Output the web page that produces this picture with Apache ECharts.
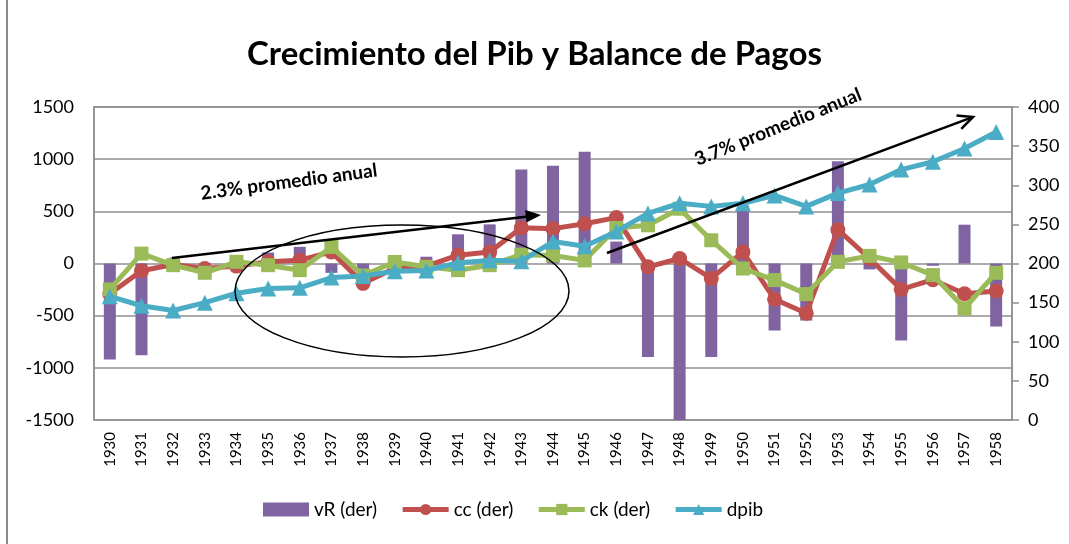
<!DOCTYPE html>
<html>
<head>
<meta charset="utf-8">
<script src="https://cdn.jsdelivr.net/npm/echarts@6/dist/echarts.min.js"></script>
<style>
  html, body { margin: 0; padding: 0; background: #fff; }
  #chart { width: 1069px; height: 544px; }
</style>
</head>
<body>
<div id="chart"></div>
<script>
// ---- data ----
var years = ['1930', '1931', '1932', '1933', '1934', '1935', '1936', '1937', '1938', '1939',
    '1940', '1941', '1942', '1943', '1944', '1945', '1946', '1947', '1948', '1949',
    '1950', '1951', '1952', '1953', '1954', '1955', '1956', '1957', '1958'];

var vR = [-920, -880, 0, -20, 0, 105, 160, -90, -100, -15,
    65, 280, 375, 900, 938, 1072, 210, -897, -1500, -897,
    556, -642, -547, 980, -57, -738, -22, 372, -604];

var cc = [-290, -70, -10, -48, -25, 16, 32, 111, -190, -45,
    -25, 80, 111, 343, 334, 381, 440, -32, 48, -143,
    111, -343, -477, 324, 48, -248, -155, -290, -264];

var ck = [-248, 95, -16, -89, 16, -16, -64, 159, -115, 15,
    -32, -64, -16, 85, 77, 30, 340, 366, 525, 223,
    -48, -159, -293, 16, 73, 10, -111, -429, -89];

var dpib = [158, 146, 140, 150, 162, 168, 169, 182, 184, 190,
    191, 201, 204, 203, 228, 222, 241, 264, 277, 273,
    277, 287, 273, 290, 301, 320, 330, 347, 368];

var seriesNames = ['vR (der)', 'cc (der)', 'ck (der)', 'dpib'];

var FONT = 'Lato';

var chart = echarts.init(document.getElementById('chart'));

option = {
    animation: false,
    textStyle: { fontFamily: FONT, color: '#000' },
    title: {
        text: 'Crecimiento del Pib y Balance de Pagos',
        left: 'center',
        top: 33,
        textStyle: { fontFamily: FONT, fontSize: 33, fontWeight: 'bold', color: '#000' }
    },
    legend: {
        bottom: 20,
        left: 258,
        itemGap: 23,
        itemWidth: 46,
        itemHeight: 14,
        lineStyle: { width: 5 },
        textStyle: { fontFamily: FONT, fontSize: 19, color: '#000' },
        data: [
            { name: seriesNames[0], icon: 'rect' },
            { name: seriesNames[1] },
            { name: seriesNames[2] },
            { name: seriesNames[3] }
        ]
    },
    grid: {
        left: 94,
        right: 57,
        top: 107,
        bottom: 124,
        show: true,
        borderColor: '#8f8f8f',
        borderWidth: 1.5
    },
    xAxis: {
        type: 'category',
        data: years,
        axisLine: { show: false },
        axisTick: { show: false },
        axisLabel: {
            rotate: 90,
            margin: 12,
            fontSize: 15,
            color: '#000',
            fontFamily: FONT
        }
    },
    yAxis: [{
        type: 'value',
        min: -1500,
        max: 1500,
        interval: 500,
        axisLine: { show: true, lineStyle: { color: '#8f8f8f', width: 1.5 } },
        axisTick: { show: false },
        axisLabel: {
            fontSize: 18, color: '#000', margin: 20, fontFamily: FONT,
            formatter: function (v) { return String(v); }
        },
        splitLine: { lineStyle: { color: '#8f8f8f', width: 1.5 } }
    }, {
        type: 'value',
        min: 0,
        max: 400,
        interval: 50,
        axisLine: { show: true, lineStyle: { color: '#8f8f8f', width: 1.5 } },
        axisTick: { show: true, length: 7, lineStyle: { color: '#8f8f8f', width: 1.5 } },
        axisLabel: { fontSize: 18, color: '#000', margin: 16, fontFamily: FONT },
        splitLine: { show: false }
    }],
    series: [{
        name: seriesNames[0],
        type: 'bar',
        yAxisIndex: 0,
        barWidth: 12,
        itemStyle: { color: '#8064A2' },
        data: vR,
        z: 1
    }, {
        name: seriesNames[1],
        type: 'line',
        yAxisIndex: 0,
        symbol: 'circle',
        symbolSize: 15,
        lineStyle: { width: 5, color: '#C0504D' },
        itemStyle: { color: '#C0504D' },
        data: cc,
        z: 3
    }, {
        name: seriesNames[2],
        type: 'line',
        yAxisIndex: 0,
        symbol: 'rect',
        symbolSize: 14,
        lineStyle: { width: 5, color: '#9BBB59' },
        itemStyle: { color: '#9BBB59' },
        data: ck,
        z: 4
    }, {
        name: seriesNames[3],
        type: 'line',
        yAxisIndex: 1,
        symbol: 'triangle',
        symbolSize: 16,
        lineStyle: { width: 5, color: '#4BACC6' },
        itemStyle: { color: '#4BACC6' },
        data: dpib,
        z: 5
    }],
    graphic: [
        // outer chart border (left edge visible)
        { type: 'line', shape: { x1: 7, y1: 0, x2: 7, y2: 544 }, style: { stroke: '#8c8c8c', lineWidth: 2 }, z: 100 },
        // ellipse annotation
        { type: 'ellipse', shape: { cx: 402, cy: 291, rx: 167, ry: 66 }, style: { fill: null, stroke: '#000', lineWidth: 1.5 }, z: 100 },
        // arrow 1
        { type: 'line', shape: { x1: 172, y1: 258, x2: 528, y2: 216.4 }, style: { stroke: '#000', lineWidth: 2.5 }, z: 100 },
        { type: 'polygon', shape: { points: [[541, 215], [526.5, 222.5], [525.1, 210.1]] }, style: { fill: '#000' }, z: 100 },
        {
            type: 'text', x: 289, y: 182, rotation: 7.5 * Math.PI / 180, z: 100,
            style: { text: '2.3% promedio anual', font: 'bold 19px ' + FONT, fill: '#000', align: 'center', verticalAlign: 'middle' }
        },
        // arrow 2
        { type: 'line', shape: { x1: 607, y1: 253, x2: 972, y2: 117.4 }, style: { stroke: '#000', lineWidth: 2.5 }, z: 100 },
        { type: 'polyline', shape: { points: [[961.3, 128.8], [973, 117], [956.5, 115.6]] }, style: { stroke: '#000', lineWidth: 2.5, fill: null }, z: 100 },
        {
            type: 'text', x: 778, y: 127, rotation: 22 * Math.PI / 180, z: 100,
            style: { text: '3.7% promedio anual', font: 'bold 19px ' + FONT, fill: '#000', align: 'center', verticalAlign: 'middle' }
        }
    ]
};

chart.setOption(option);
</script>
</body>
</html>
